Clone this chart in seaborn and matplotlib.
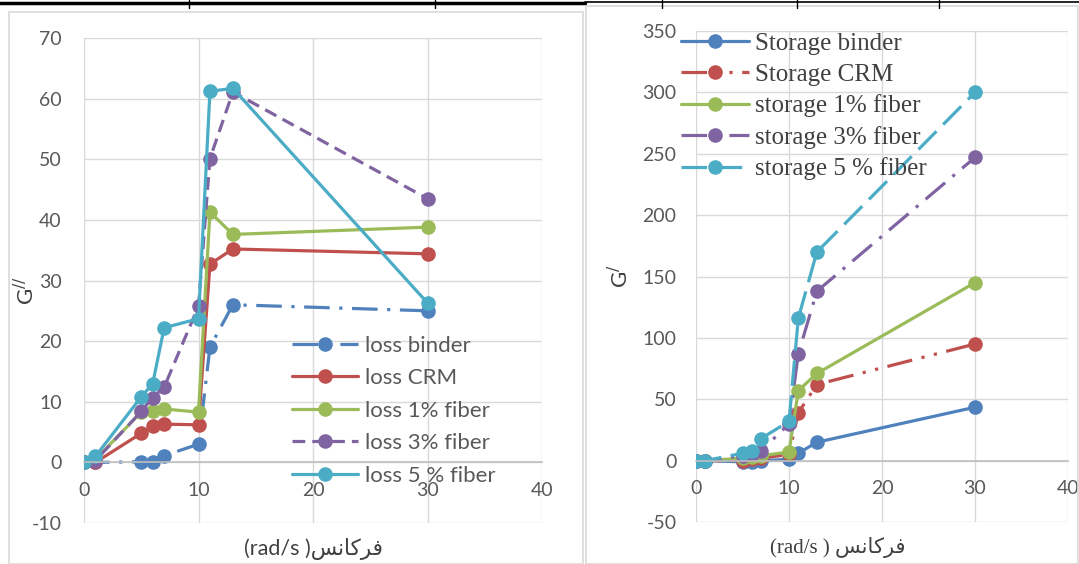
import matplotlib
matplotlib.use("Agg")
import matplotlib.pyplot as plt
import seaborn as sns
from matplotlib.lines import Line2D
from matplotlib.patches import Rectangle

# angular frequency (rad/s)
freq = [0, 1, 5, 6, 7, 10, 11, 13, 30]

# loss modulus G''
loss_binder = [0, 0, 0.1, 0, 1.1, 3, 19, 26, 25]
loss_crm = [0, 0, 4.8, 6, 6.3, 6.2, 32.7, 35.2, 34.4]
loss_1 = [0, 0.5, 8.3, 8.5, 8.8, 8.3, 41.3, 37.6, 38.8]
loss_3 = [0, 0.3, 8.4, 10.7, 12.4, 25.8, 50.1, 61.1, 43.5]
loss_5 = [0, 1, 10.8, 13, 22.2, 23.7, 61.2, 61.7, 26.3]

# storage modulus G'
storage_binder = [0, 0, -1, -1, 0, 1, 6, 15, 43.5]
storage_crm = [0, 0, 0, 1, 2, 5, 39, 62, 95]
storage_1 = [0, 0, 2, 3, 4, 7, 57, 71, 145]
storage_3 = [0, 0, 4, 5, 8, 30, 87, 138, 247]
storage_5 = [0, 0, 6, 8, 18, 32, 116, 170, 300]

loss_labels = ["loss binder", "loss CRM", "loss 1% fiber", "loss 3% fiber", "loss 5 % fiber"]
storage_labels = ["Storage binder", "Storage CRM", "storage 1% fiber",
                  "storage 3% fiber", "storage 5 % fiber"]

colors = ["#4F81BD", "#C0504D", "#9BBB59", "#8064A2", "#4BACC6"]
loss_styles = [(0, (8, 3, 1, 3)), "-", "-", (0, (4, 2.2)), "-"]
storage_styles = ["-", (0, (8, 3, 1, 3, 1, 3)), "-", (0, (8, 3, 1, 3)), (0, (8, 3))]

arabic = "\uFEB2\uFEE7\uFE8E\uFB90\uFEAE\uFED3"  # visual order of the Persian word

sns.set_style("white")
plt.rcParams['font.family'] = ['Lato', 'DejaVu Sans']
plt.rcParams['axes.unicode_minus'] = False

fig = plt.figure(figsize=(10.79, 5.64), dpi=100)
W, H = 1079, 564


def fx(px):
    return px / W


def fy(py):
    return 1 - py / H


# page decorations (panel frames, table border)
fig.add_artist(Rectangle((fx(9), fy(564)), fx(574), fy(12) - fy(564), transform=fig.transFigure,
                         fill=False, edgecolor="#d9d9d9", lw=1.2))
fig.add_artist(Rectangle((fx(586), fy(564)), fx(492), fy(6) - fy(564), transform=fig.transFigure,
                         fill=False, edgecolor="#d9d9d9", lw=1.2))
fig.add_artist(Line2D([0, fx(585)], [fy(2.5), fy(2.5)], transform=fig.transFigure, color="black", lw=2.5))
fig.add_artist(Line2D([fx(585), 1], [fy(1.5), fy(1.5)], transform=fig.transFigure, color="black", lw=1.2))
for px in [189, 435, 662, 797, 939]:
    fig.add_artist(Line2D([fx(px), fx(px)], [fy(0), fy(8)], transform=fig.transFigure, color="black", lw=1))

ax1 = fig.add_axes([fx(84), fy(523), fx(542) - fx(84), fy(38) - fy(523)])
ax2 = fig.add_axes([fx(696), fy(522), fx(1068) - fx(696), fy(31) - fy(522)])


def style_axes(ax, ylim, ystep, ypad):
    ax.set_xlim(0, 40)
    ax.set_ylim(*ylim)
    ax.set_xticks(range(0, 41, 10))
    ax.set_yticks(range(ylim[0], ylim[1] + 1, ystep))
    ax.grid(True, color="#d9d9d9", lw=1)
    ax.set_axisbelow(True)
    for s in ["top", "right", "left"]:
        ax.spines[s].set_visible(False)
    ax.spines["bottom"].set_position(("data", 0))
    ax.spines["bottom"].set_color("#bfbfbf")
    ax.spines["bottom"].set_linewidth(1.2)
    ax.tick_params(axis="x", length=0, pad=14, labelsize=14, labelcolor="#595959")
    ax.tick_params(axis="y", length=0, pad=ypad, labelsize=14, labelcolor="#595959")


# ---- left: loss modulus
loss_series = [loss_binder, loss_crm, loss_1, loss_3, loss_5]
for vals, lab, c, ls in zip(loss_series, loss_labels, colors, loss_styles):
    sns.lineplot(x=freq, y=vals, ax=ax1, color=c, linestyle=ls, lw=2.3, marker="o",
                 markersize=10.5, markeredgewidth=0, label=lab)
style_axes(ax1, (-10, 70), 10, 16)
ax1.legend(loc="upper left", bbox_to_anchor=(0.454, 0.386), frameon=False, fontsize=16,
           borderpad=0, borderaxespad=0, handlelength=2.97, handletextpad=0.3,
           labelspacing=0.56, labelcolor="#595959")
ax1.set_xlabel("(rad/s )" + arabic, fontsize=15.5, color="#404040")
ax1.xaxis.set_label_coords(0.5, -0.03)
ax1.set_ylabel("G$^{//}$", fontsize=16, color="#404040")
ax1.yaxis.set_label_coords(-0.10, 0.48)

# ---- right: storage modulus
storage_series = [storage_binder, storage_crm, storage_1, storage_3, storage_5]
for vals, lab, c, ls in zip(storage_series, storage_labels, colors, storage_styles):
    sns.lineplot(x=freq, y=vals, ax=ax2, color=c, linestyle=ls, lw=2.3, marker="o",
                 markersize=10.5, markeredgewidth=0, label=lab)
style_axes(ax2, (-50, 350), 50, 14)
ax2.legend(loc="upper left", bbox_to_anchor=(-0.04, 0.997), frameon=False,
           prop={"family": "Liberation Serif", "size": 18},
           borderpad=0, borderaxespad=0, handlelength=2.7, handletextpad=0.24,
           labelspacing=0.34, labelcolor="#404040")
ax2.set_xlabel("(rad/s ) " + arabic, fontsize=15, color="#404040",
               family=["Liberation Serif", "DejaVu Sans"])
ax2.xaxis.set_label_coords(0.382, -0.03)
ax2.set_ylabel("G$^{/}$", fontsize=16, color="#404040")
ax2.yaxis.set_label_coords(-0.172, 0.5)

fig.savefig("out.png", dpi=100)
